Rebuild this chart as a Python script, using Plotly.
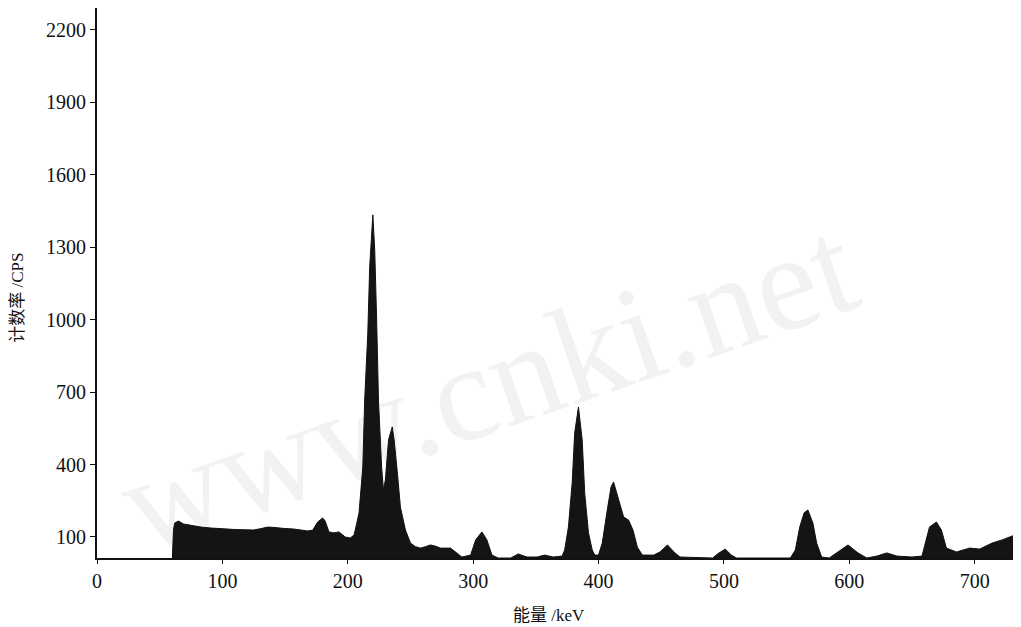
import plotly.graph_objects as go

# Energy (keV) and count rate (CPS)
energy = [60, 61, 62, 65, 69, 73, 77, 83, 91, 97, 104, 110, 117, 125, 131, 136, 140, 144, 150,
          157, 163, 168, 172, 176, 180, 182, 185, 189, 193, 198, 202, 205, 206, 209, 212, 213.5,
          216, 217.5, 220, 221.5, 223, 224.5, 227, 228.5, 230, 232.5, 235.5, 237, 239.6, 242,
          246, 250, 254, 258, 262, 266, 270, 274, 282, 286, 291, 298, 302, 307, 311, 315, 320,
          330, 333, 336, 339, 343, 351, 357, 364, 371, 373, 376, 379, 381, 384, 387, 389, 392,
          395, 397, 400, 403, 407, 410, 412, 416, 420, 424, 427.5, 431, 435, 444, 449, 455, 461,
          465, 491, 495, 501, 506, 510, 553, 557, 560.5, 564, 567, 571, 574, 578, 584, 591, 599,
          607, 614, 622, 630, 638, 650, 658, 660, 664, 669.5, 673.5, 677.5, 685.5, 696, 704, 714,
          722, 732]
counts = [0, 130, 158, 166, 154, 150, 146, 141, 137, 134, 133, 131, 129, 129, 135, 141, 140, 137, 135,
          133, 129, 125, 128, 162, 179, 166, 121, 117, 121, 100, 96, 108, 129, 200, 390, 667,
          945, 1220, 1434, 1290, 1010, 667, 390, 295, 336, 502, 556, 502, 365, 224,
          129, 75, 60, 54, 60, 67, 62, 54, 54, 38, 17, 25, 88, 121, 88, 25, 13,
          13, 22, 30, 24, 17, 17, 25, 17, 21, 46, 141, 324, 531, 638, 502, 282, 117,
          46, 25, 25, 75, 212, 307, 328, 253, 183, 170, 129, 58, 25, 25, 38, 67, 34,
          17, 13, 30, 50, 25, 13, 13, 46, 141, 200, 212, 158, 75, 17, 13, 38, 67,
          34, 13, 21, 34, 21, 17, 21, 58, 141, 162, 129, 54, 38, 54, 50, 75,
          88, 108]

x_ticks = [0, 100, 200, 300, 400, 500, 600, 700]
y_ticks = [100, 400, 700, 1000, 1300, 1600, 1900, 2200]

x_title = "能量 /keV"
y_title = "计数率 /CPS"
watermark = "www.cnki.net"

font_family = "Liberation Serif, Times New Roman, Noto Sans CJK SC, serif"

fig = go.Figure()
fig.add_trace(go.Scatter(
    x=energy, y=counts, mode="lines",
    line=dict(color="#111111", width=1),
    fill="tozeroy", fillcolor="#141414",
    hoverinfo="x+y", showlegend=False,
))

fig.update_layout(
    width=1013, height=619,
    margin=dict(l=89, r=5, t=0, b=69),
    paper_bgcolor="white", plot_bgcolor="white",
    font=dict(family=font_family, size=20, color="#111111"),
    xaxis=dict(
        range=[0, 733], tickvals=x_ticks, ticktext=[str(v) for v in x_ticks],
        showgrid=False, zeroline=False,
        showline=True, linecolor="#111111", linewidth=2,
        ticks="outside", ticklen=4, tickwidth=1, tickcolor="#111111",
    ),
    yaxis=dict(
        range=[13, 2291], tickvals=y_ticks, ticktext=[str(v) for v in y_ticks],
        showgrid=False, zeroline=False,
        showline=True, linecolor="#111111", linewidth=2,
        ticks="outside", ticklen=5, tickwidth=1, tickcolor="#111111",
    ),
    shapes=[dict(
        type="rect", xref="paper", yref="paper", x0=0.0, x1=0.84, y0=0.0, y1=0.68,
        line=dict(width=0), fillcolor="rgba(0,0,0,0)", layer="below",
        label=dict(text=watermark, textangle=-19, textposition="middle center",
                   font=dict(family=font_family, size=138, color="#f2f2f2")),
    )],
    annotations=[
        dict(text=x_title, xref="paper", yref="paper", x=0.492, y=-0.104,
             xanchor="center", yanchor="middle", showarrow=False,
             font=dict(family=font_family, size=17, color="#111111")),
        dict(text=y_title, xref="paper", yref="paper", x=-0.086, y=0.473,
             xanchor="center", yanchor="middle", showarrow=False, textangle=-90,
             font=dict(family=font_family, size=17, color="#111111")),
    ],
)

fig.write_html("out.html")
